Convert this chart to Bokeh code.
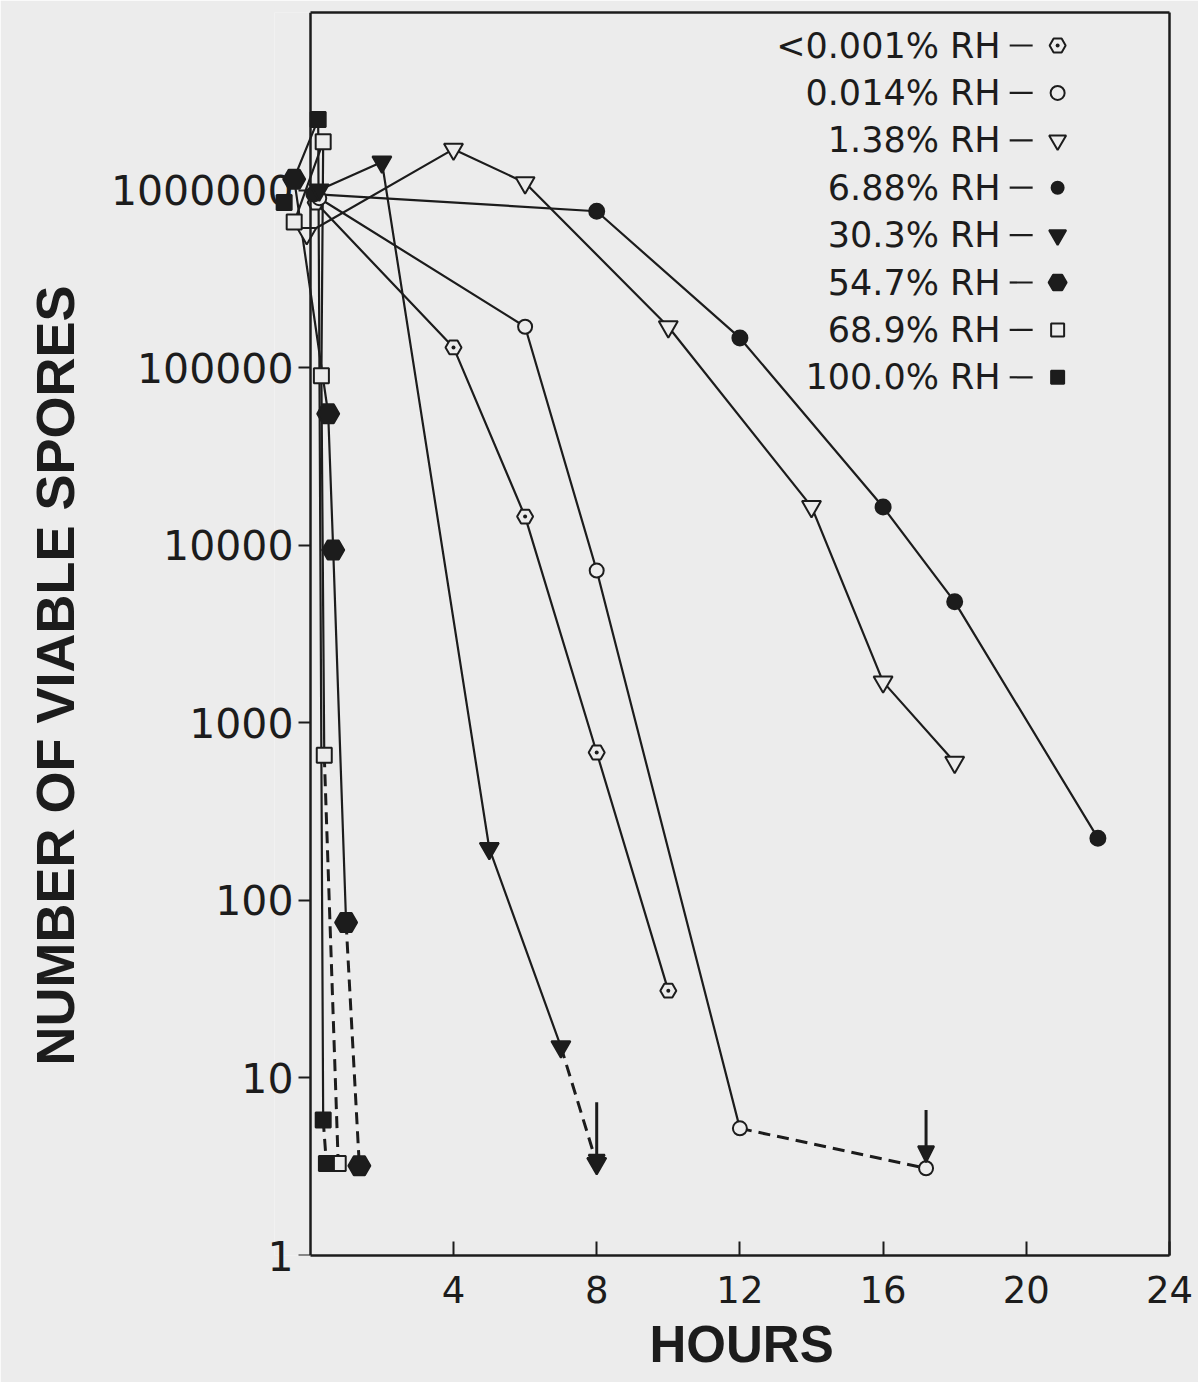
from bokeh.plotting import figure
from bokeh.models import FixedTicker, LinearAxis, LogAxis, Title, Arrow, NormalHead
from bokeh.core.properties import value
from bokeh.embed import file_html
from bokeh.resources import INLINE

# ---------------- data ----------------
series_labels = ["<0.001% RH", "0.014% RH", "1.38% RH", "6.88% RH",
                 "30.3% RH", "54.7% RH", "68.9% RH", "100.0% RH"]

hours_rh0001 = [0.15, 4, 6, 8, 10]
spores_rh0001 = [8.5e5, 1.3e5, 1.45e4, 680, 31]

hours_rh0014 = [0.25, 6, 8, 12, 17.2]
spores_rh0014 = [9.0e5, 1.7e5, 7200, 5.2, 3.1]

hours_rh138 = [-0.1, 4, 6, 10, 14, 16, 18]
spores_rh138 = [5.7e5, 1.7e6, 1.1e6, 1.7e5, 1.65e4, 1700, 600]

hours_rh688 = [0.1, 8, 12, 16, 18, 22]
spores_rh688 = [9.5e5, 7.6e5, 1.47e5, 1.64e4, 4800, 224]

hours_rh303 = [0.25, 2, 5, 7, 8]
spores_rh303 = [1.0e6, 1.44e6, 196, 15, 3.3]

hours_rh547 = [-0.45, 0.5, 0.64, 1.0, 1.37]
spores_rh547 = [1.15e6, 5.5e4, 9400, 75, 3.2]

hours_rh689 = [-0.45, 0.36, 0.31, 0.39, 0.78]
spores_rh689 = [6.6e5, 1.87e6, 9.0e4, 656, 3.3]

hours_rh1000 = [-0.73, 0.22, 0.36, 0.45]
spores_rh1000 = [8.5e5, 2.5e6, 5.8, 3.3]

# last segment drawn dashed (below detection limit)
dashed_last = [False, True, False, False, True, True, True, True]

# "below detection" arrows
arrow_hours = [8, 17.2]
arrow_from = [7.3, 6.6]
arrow_to = [3.0, 3.35]

x_ticks = [4, 8, 12, 16, 20, 24]
y_ticks = [1, 10, 100, 1000, 10000, 100000, 1000000]
y_tick_labels = ["1", "10", "100", "1000", "10000", "100000", "1000000"]
x_title = "HOURS"
y_title = "NUMBER OF VIABLE SPORES"

# ---------------- styles / layout ----------------
BG = "#ececec"
INK = "#1c1c1c"
markers = ["hex_dot", "circle", "inverted_triangle", "circle",
           "inverted_triangle", "hex", "square", "square"]
filled = [False, False, False, True, True, True, False, True]
msize = [16, 14, 19, 15, 19, 22, 15, 15]
leg_size = [16, 14, 17, 12, 17, 18, 13, 13]

all_x = [hours_rh0001, hours_rh0014, hours_rh138, hours_rh688,
         hours_rh303, hours_rh547, hours_rh689, hours_rh1000]
all_y = [spores_rh0001, spores_rh0014, spores_rh138, spores_rh688,
         spores_rh303, spores_rh547, spores_rh689, spores_rh1000]

W, H = 1198, 1382
FL, FR, FT, FB = 273, 1169, 12, 1255   # frame edges in page pixels
X0, X1 = -1, 24

def px_to_hr(px):
    return X0 + (px - FL) / (FR - FL) * (X1 - X0)
def py_to_val(py):
    return 10 ** (7 - (py - FT) * 7 / (FB - FT))

p = figure(width=W, height=H, x_range=(X0, X1), y_range=(1, 1e7),
           y_axis_type="log", output_backend="svg", toolbar_location=None,
           min_border_left=FL, min_border_right=W - FR, min_border_top=FT,
           min_border_bottom=H - FB, background_fill_color=BG,
           border_fill_color=BG)
p.grid.visible = False
p.outline_line_color = None

# x axis
xa = p.xaxis[0]
xa.ticker = FixedTicker(ticks=x_ticks)
xa.bounds = (0, 24)
xa.major_tick_in = 14
xa.major_tick_out = 0
xa.minor_tick_line_color = None
xa.axis_line_width = 2.5
xa.axis_line_color = INK
xa.major_tick_line_width = 2
xa.major_tick_line_color = INK
xa.major_label_text_font = "DejaVu Sans"
xa.major_label_text_font_size = "37px"
xa.major_label_text_color = INK
xa.major_label_standoff = 20

xtitle = Title(text=x_title, align="left", offset=375, standoff=17,
               text_font="Liberation Sans", text_font_size="51px",
               text_font_style="bold", text_color=INK)
p.add_layout(xtitle, "below")

# y axis line + ticks drawn at hour 0 (labels come from the axis below)
ya = p.yaxis[0]
ya.ticker = FixedTicker(ticks=y_ticks)
ya.fixed_location = 0
ya.major_tick_out = 12
ya.major_tick_in = 0
ya.minor_tick_line_color = None
ya.axis_line_width = 2.5
ya.axis_line_color = INK
ya.major_tick_line_width = 2
ya.major_tick_line_color = INK
ya.major_label_overrides = {t: "" for t in y_ticks}
ya.major_label_text_color = None
ya.major_label_standoff = 0

# y tick labels in the left panel, pulled in toward hour 0
yl = LogAxis(ticker=FixedTicker(ticks=y_ticks),
             major_label_overrides={t: s for t, s in zip(y_ticks, y_tick_labels)},
             major_tick_in=0, major_tick_out=0,
             minor_tick_line_color=None, major_tick_line_color=None,
             axis_line_color=None,
             major_label_standoff=-19,
             major_label_text_font="DejaVu Sans",
             major_label_text_font_size="41px",
             major_label_text_color=INK)
p.add_layout(yl, "left")

# frame top / right borders
top = LinearAxis(ticker=FixedTicker(ticks=[]), bounds=(0, 24),
                 major_tick_in=0, major_tick_out=0,
                 minor_tick_line_color=None, major_label_text_color=None,
                 axis_line_width=2.5, axis_line_color=INK)
p.add_layout(top, "above")
right = LogAxis(ticker=FixedTicker(ticks=[]), major_tick_in=0,
                major_tick_out=0, minor_tick_line_color=None,
                major_label_text_color=None, axis_line_width=2.5,
                axis_line_color=INK)
p.add_layout(right, "right")

ytitle = Title(text=y_title, align="left", offset=190, standoff=45,
               text_font="Liberation Sans", text_font_size="54px",
               text_font_style="bold", text_color=INK)
p.add_layout(ytitle, "left")

# lines
for xs, ys, dl in zip(all_x, all_y, dashed_last):
    if dl:
        p.line(xs[:-1], ys[:-1], line_width=2.2, color=INK)
        p.line(xs[-2:], ys[-2:], line_width=3, color=INK, line_dash="12 7")
    else:
        p.line(xs, ys, line_width=2.2, color=INK)

# arrows
for ax, a0, a1 in zip(arrow_hours, arrow_from, arrow_to):
    p.add_layout(Arrow(x_start=ax, y_start=a0, x_end=ax, y_end=a1,
                       line_width=3, line_color=INK,
                       end=NormalHead(size=16, fill_color=INK,
                                      line_color=INK, line_width=2)))

# markers
for xs, ys, m, f, s in zip(all_x, all_y, markers, filled, msize):
    p.scatter(xs, ys, marker=m, size=s, line_color=INK, line_width=2,
              fill_color=INK if f else BG)

# ---------------- legend (text, dash, marker) ----------------
rows = list(range(len(series_labels)))
leg_y = [py_to_val(45 + 47.4 * i) for i in rows]
p.text([px_to_hr(1000)] * len(rows), leg_y, text=series_labels,
       text_align="right", text_baseline="middle",
       text_font=value("DejaVu Sans"), text_font_size="35px",
       text_color=INK)
p.segment([px_to_hr(1009)] * len(rows), leg_y,
          [px_to_hr(1032)] * len(rows), leg_y, line_width=2.2, color=INK)
for i in rows:
    p.scatter([px_to_hr(1057)], [leg_y[i]], marker=markers[i],
              size=leg_size[i], line_color=INK, line_width=2,
              fill_color=INK if filled[i] else BG)

open("out.html", "w").write(file_html(p, INLINE))
